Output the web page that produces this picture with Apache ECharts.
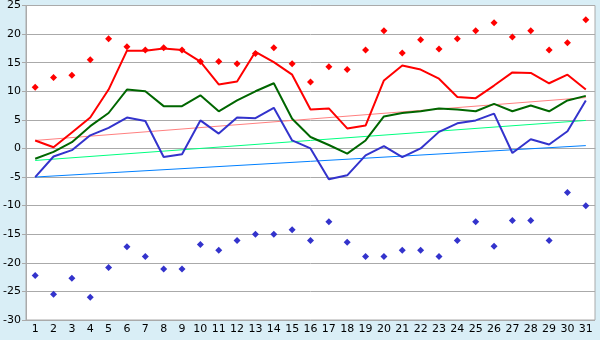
<!DOCTYPE html>
<html>
<head>
<meta charset="utf-8">
<script src="https://cdn.jsdelivr.net/npm/echarts@6/dist/echarts.min.js"></script>
<style>
html, body { margin: 0; padding: 0; background: #d9eef6; }
#box1 { width: 600px; height: 340px; }
</style>
</head>
<body>
<div id="box1"></div>
<script>
var days = [];
for (var d = 1; d <= 31; d++) days.push(String(d));

var maxLine = [1.4, 0.2, 2.8, 5.4, 10.3, 17.1, 17.1, 17.5, 17.2, 15.2, 11.2, 11.7, 16.9, 15.1, 12.9,
  6.8, 7.0, 3.5, 4.0, 11.9, 14.5, 13.8, 12.2, 9.0, 8.8, 11.0, 13.3, 13.2, 11.4, 12.9, 10.3];
var meanLine = [-1.8, -0.6, 1.1, 3.9, 6.2, 10.3, 10.0, 7.4, 7.4, 9.3, 6.5, 8.4, 10.0, 11.4, 5.2,
  2.0, 0.6, -0.9, 1.4, 5.6, 6.2, 6.5, 7.0, 6.8, 6.5, 7.8, 6.5, 7.5, 6.5, 8.4, 9.2];
var minLine = [-5.0, -1.4, -0.3, 2.3, 3.6, 5.4, 4.8, -1.5, -1.0, 4.9, 2.6, 5.4, 5.3, 7.1, 1.4,
  0.0, -5.4, -4.7, -1.2, 0.4, -1.5, 0.0, 2.9, 4.4, 4.9, 6.1, -0.8, 1.6, 0.7, 3.0, 8.4];
var maxRecord = [10.7, 12.4, 12.8, 15.5, 19.2, 17.8, 17.2, 17.6, 17.2, 15.2, 15.2, 14.8, 16.6, 17.6, 14.8,
  11.6, 14.3, 13.8, 17.2, 20.6, 16.7, 19.0, 17.4, 19.2, 20.6, 22.0, 19.5, 20.6, 17.2, 18.5, 22.5];
var minRecord = [-22.2, -25.5, -22.7, -26.0, -20.8, -17.2, -18.9, -21.1, -21.1, -16.8, -17.8, -16.1, -15.0, -15.0, -14.2,
  -16.1, -12.8, -16.4, -18.9, -18.9, -17.8, -17.8, -18.9, -16.1, -12.8, -17.1, -12.6, -12.6, -16.1, -7.7, -10.0];
// trend lines: value on day 1 and day 31
var maxTrend = [1.4, 8.9];
var meanTrend = [-2.1, 4.9];
var minTrend = [-5.0, 0.5];

function trend(ends) {
  return [[days[0], ends[0]], [days[days.length - 1], ends[1]]];
}

var myChart = echarts.init(document.getElementById("box1"));

var option = {
  backgroundColor: '#d9eef6',
  animation: false,
  textStyle: { fontFamily: 'DejaVu Sans' },
  grid: {
    left: 26, right: 5, top: 5, bottom: 20,
    show: true,
    backgroundColor: '#ffffff',
    borderColor: '#aaaaaa',
    borderWidth: 1
  },
  xAxis: {
    type: 'category',
    data: days,
    boundaryGap: true,
    axisLine: { lineStyle: { color: '#aaaaaa' } },
    axisTick: { alignWithLabel: true, length: 5, lineStyle: { color: '#000' } },
    axisLabel: { color: '#000', fontSize: 11, margin: 4, interval: 0 },
    splitLine: { show: false }
  },
  yAxis: {
    type: 'value',
    min: -30, max: 25, interval: 5,
    axisLine: { show: true, lineStyle: { color: '#aaaaaa' } },
    axisTick: { show: true, length: 4, lineStyle: { color: '#aaaaaa' } },
    axisLabel: { color: '#000', fontSize: 11, margin: 5 },
    splitLine: { lineStyle: { color: '#aaaaaa', width: 1 } }
  },
  series: [
    { type: 'line', data: trend(maxTrend), symbol: 'none', lineStyle: { color: '#ff8080', width: 1 }, z: 1 },
    { type: 'line', data: trend(meanTrend), symbol: 'none', lineStyle: { color: '#00ff80', width: 1 }, z: 1 },
    { type: 'line', data: trend(minTrend), symbol: 'none', lineStyle: { color: '#0080ff', width: 1 }, z: 1 },
    { type: 'line', data: maxLine, symbol: 'none', lineStyle: { color: '#ff0000', width: 2 }, z: 3 },
    { type: 'line', data: meanLine, symbol: 'none', lineStyle: { color: '#006600', width: 2 }, z: 3 },
    { type: 'line', data: minLine, symbol: 'none', lineStyle: { color: '#3333cc', width: 2 }, z: 3 },
    { type: 'scatter', data: maxRecord, symbol: 'diamond', symbolSize: 7, itemStyle: { color: '#ff0000', opacity: 1 }, z: 4 },
    { type: 'scatter', data: minRecord, symbol: 'diamond', symbolSize: 7, itemStyle: { color: '#3333cc', opacity: 1 }, z: 4 }
  ]
};
myChart.setOption(option);
</script>
</body>
</html>
